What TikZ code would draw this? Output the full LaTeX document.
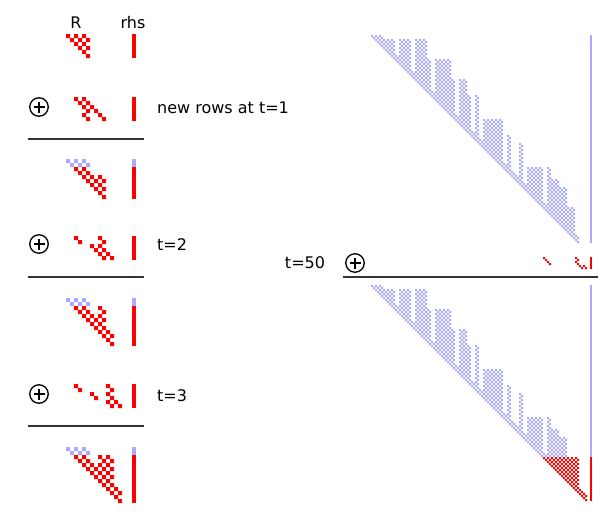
\documentclass[tikz,border=0pt]{standalone}
\usepackage{fontspec}
\setmainfont{DejaVu Sans}
\usetikzlibrary{positioning}
\definecolor{newred}{HTML}{FF0000}
\definecolor{oldblue}{HTML}{AAAAFF}
\definecolor{rulegray}{HTML}{333333}

% one nonzero block: two squares on the diagonal of its 2x2 cell
\newcommand{\nzent}[2]{\fill (2*#2,2*#1) rectangle ++(1,1) (2*#2+1,2*#1+1) rectangle ++(1,1);}

% first row of each column of the big factor (column/start row)
\def\colstarts{0/0,1/0,2/0,3/1,4/1,5/1,6/5,7/1,8/1,9/1,10/9,11/1,12/1,13/1,14/6,15/14,16/6,17/6,18/6,19/6,20/11,21/20,22/11,23/11,24/15,25/24,26/15,27/26,28/21,29/21,30/21,31/21,32/21,33/32,34/25,35/34,36/35,37/27,38/37,39/33,40/33,41/33,42/33,43/42,44/33,45/36,46/36,47/38,48/38,49/43,50/43,51/50}

\begin{document}
\begin{tikzpicture}[x=1pt, y=-1pt,
  lbl/.style={font=\fontsize{16}{19}\selectfont, inner sep=0pt},
  addsign/.style={circle, draw=black, line width=1.3pt, minimum size=18.5pt, inner sep=0pt},
  sepline/.style={rulegray, line width=1.6pt}]

% Background
\fill[white] (0,0) rectangle (610,514);
\useasboundingbox (0,0) rectangle (610,514);

% --- Headings ---
\node[lbl] (lblR) at (76,23) {R};
\node[lbl] (lblrhs) at (133,23) {rhs};

% --- t=0: R and rhs ---
\begin{scope}[shift={(66,34)}, x=4pt, y=-4pt, fill=newred]
  \foreach \rw/\cl in {0/0,0/1,0/2,1/1,1/2,2/2} {\nzent{\rw}{\cl}}
\end{scope}
\fill[newred] (132,34) rectangle (136,58);

% --- new rows at t=1 ---
\begin{scope}[shift={(66,97)}, x=4pt, y=-4pt, fill=newred]
  \foreach \rw/\cl in {0/1,0/2,1/2,1/3,2/2,2/4} {\nzent{\rw}{\cl}}
\end{scope}
\fill[newred] (132,97) rectangle (136,121);
\node[lbl, anchor=west] (lblt1) at (157,108) {new rows at t=1};

% --- result after t=1 ---
\begin{scope}[shift={(66,159)}, x=4pt, y=-4pt]
  \foreach \rw/\cl in {0/0,0/1,0/2} {\fill[oldblue] (2*\cl,2*\rw) rectangle ++(1,1) (2*\cl+1,2*\rw+1) rectangle ++(1,1);}
  \foreach \rw/\cl in {1/1,1/2,2/2,2/3,2/4,3/3,3/4,4/4} {\fill[newred] (2*\cl,2*\rw) rectangle ++(1,1) (2*\cl+1,2*\rw+1) rectangle ++(1,1);}
\end{scope}
\fill[oldblue] (132,159) rectangle (136,167);
\fill[newred] (132,167) rectangle (136,199);

% --- new rows at t=2 ---
\begin{scope}[shift={(66,236)}, x=4pt, y=-4pt, fill=newred]
  \foreach \rw/\cl in {0/1,0/4,1/3,1/4,2/4,2/5} {\nzent{\rw}{\cl}}
\end{scope}
\fill[newred] (132,236) rectangle (136,260);
\node[lbl, anchor=west] (lblt2) at (157,245) {t=2};

% --- result after t=2 ---
\begin{scope}[shift={(66,298)}, x=4pt, y=-4pt]
  \foreach \rw/\cl in {0/0,0/1,0/2} {\fill[oldblue] (2*\cl,2*\rw) rectangle ++(1,1) (2*\cl+1,2*\rw+1) rectangle ++(1,1);}
  \foreach \rw/\cl in {1/1,1/2,1/4,2/2,2/3,2/4,3/3,3/4,4/4,4/5,5/5} {\fill[newred] (2*\cl,2*\rw) rectangle ++(1,1) (2*\cl+1,2*\rw+1) rectangle ++(1,1);}
\end{scope}
\fill[oldblue] (132,298) rectangle (136,306);
\fill[newred] (132,306) rectangle (136,346);

% --- new rows at t=3 ---
\begin{scope}[shift={(66,384)}, x=4pt, y=-4pt, fill=newred]
  \foreach \rw/\cl in {0/1,0/5,1/3,1/5,2/5,2/6} {\nzent{\rw}{\cl}}
\end{scope}
\fill[newred] (132,384) rectangle (136,408);
\node[lbl, anchor=west] (lblt3) at (157,396) {t=3};

% --- result after t=3 ---
\begin{scope}[shift={(66,447)}, x=4pt, y=-4pt]
  \foreach \rw/\cl in {0/0,0/1,0/2} {\fill[oldblue] (2*\cl,2*\rw) rectangle ++(1,1) (2*\cl+1,2*\rw+1) rectangle ++(1,1);}
  \foreach \rw/\cl in {1/1,1/2,1/4,1/5,2/2,2/3,2/4,2/5,3/3,3/4,3/5,4/4,4/5,5/5,5/6,6/6} {\fill[newred] (2*\cl,2*\rw) rectangle ++(1,1) (2*\cl+1,2*\rw+1) rectangle ++(1,1);}
\end{scope}
\fill[oldblue] (132,447) rectangle (136,455);
\fill[newred] (132,455) rectangle (136,503);

% --- separators on the left ---
\draw[sepline] (28,139) -- (144,139);
\draw[sepline] (28,277) -- (144,277);
\draw[sepline] (28,426) -- (144,426);

% --- t=50: factor before the update ---
\begin{scope}[shift={(371,35)}, x=2pt, y=-2pt, fill=oldblue]
  \foreach \cl/\sr in \colstarts {
    \foreach \rw in {\sr,...,\cl} {\nzent{\rw}{\cl}}
  }
\end{scope}
\fill[oldblue] (590,35) rectangle (592,243);

% new rows at t=50
\begin{scope}[shift={(371,257)}, x=2pt, y=-2pt, fill=newred]
  \foreach \rw/\cl in {0/43,0/51,1/44,1/51,2/52,2/53} {\nzent{\rw}{\cl}}
\end{scope}
\fill[newred] (590,257) rectangle (592,269);
\node[lbl] (lblt50) at (305,263) {t=50};
\draw[sepline] (343,277) -- (598,277);

% --- t=50: factor after the update ---
\begin{scope}[shift={(371,285)}, x=2pt, y=-2pt, fill=oldblue]
  \foreach \cl/\sr in \colstarts {
    \pgfmathtruncatemacro{\er}{min(\cl,42)}
    \ifnum\sr>\er\relax\else
      \foreach \rw in {\sr,...,\er} {\nzent{\rw}{\cl}}
    \fi
  }
\end{scope}
\begin{scope}[shift={(371,285)}, x=2pt, y=-2pt, fill=newred]
  \foreach \cl/\sr in {43/43,44/43,45/43,46/43,47/43,48/43,49/43,50/43,51/43,52/51,53/52} {
    \foreach \rw in {\sr,...,\cl} {\nzent{\rw}{\cl}}
  }
\end{scope}
\fill[oldblue] (590,285) rectangle (592,457);
\fill[newred] (590,457) rectangle (592,501);

% --- plus signs ---
\foreach \nm/\px/\py in {add1/39/107, add2/39/244, add3/39/394, add50/355/263} {
  \node[addsign] (\nm) at (\px,\py) {};
  \draw[line width=1.3pt] ([xshift=-5.5pt]\nm.center) -- ([xshift=5.5pt]\nm.center)
    ([yshift=-5.5pt]\nm.center) -- ([yshift=5.5pt]\nm.center);
}

\end{tikzpicture}
\end{document}
